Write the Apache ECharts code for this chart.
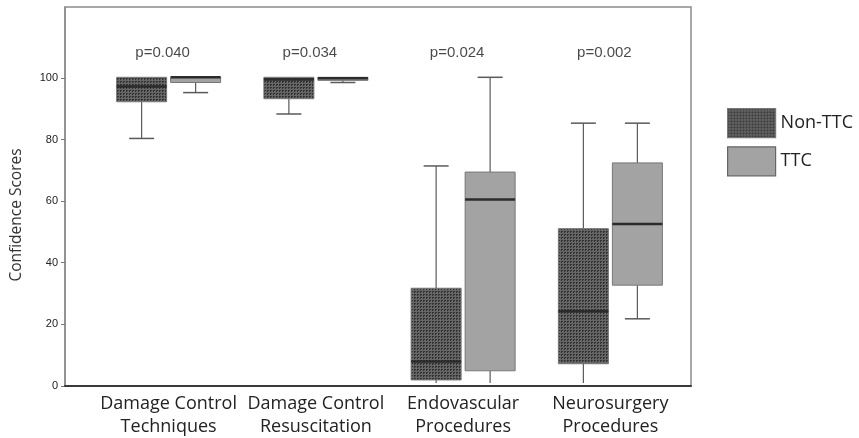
<!DOCTYPE html>
<html>
<head>
<meta charset="utf-8">
<script src="https://cdn.jsdelivr.net/npm/echarts@6/dist/echarts.min.js"></script>
<style>html,body{margin:0;padding:0;background:#fff;}#c{width:859px;height:438px;}</style>
</head>
<body>
<div id="c"></div>
<script>
// ---- data ----
const categories = ['Damage Control\nTechniques', 'Damage Control\nResuscitation', 'Endovascular\nProcedures', 'Neurosurgery\nProcedures'];
// [min, Q1, median, Q3, max]
const nonTTC = [[80, 92, 97, 100, 100], [88, 93, 99.3, 100, 100], [0, 1, 7, 31, 71], [0, 6.3, 23.5, 50.5, 85]];
const ttc = [[95, 98.3, 100, 100, 100], [98.3, 99, 99.7, 100, 100], [0, 4, 60, 69, 100], [21, 32, 52, 72, 85]];
const pValues = ['p=0.040', 'p=0.034', 'p=0.024', 'p=0.002'];
const yTicks = [0, 20, 40, 60, 80, 100];
const seriesNames = ['Non-TTC', 'TTC'];

// ---- styles ----
const Y_MAX = 123;
const P_LABEL_LEVEL = 108;
function makePattern() {
  const cv = document.createElement('canvas');
  cv.width = 3; cv.height = 3;
  const ctx = cv.getContext('2d');
  ctx.fillStyle = '#666666'; ctx.fillRect(0, 0, 3, 3);
  ctx.fillStyle = '#323232';
  ctx.fillRect(0, 0, 2, 1); ctx.fillRect(0, 1, 1, 1);
  return { image: cv, repeat: 'repeat' };
}
const darkPattern = makePattern();
const ttcFill = '#a3a3a3';

function boxRenderer(offset, fill) {
  return function (params, api) {
    const cat = api.value(0);
    const vMin = api.value(1);
    const pMin = api.coord([cat, vMin]);
    const pQ1 = api.coord([cat, api.value(2)]);
    const pMed = api.coord([cat, api.value(3)]);
    const pQ3 = api.coord([cat, api.value(4)]);
    const pMax = api.coord([cat, api.value(5)]);
    const cx = pMin[0] + offset;
    const hw = 25, cw = 12.5;
    const wStyle = { stroke: '#5a5a5a', lineWidth: 1.2 };
    const cStyle = { stroke: '#5a5a5a', lineWidth: 1.5 };
    const children = [];
    if (pMax[1] < pQ3[1] - 0.5) {
      children.push({ type: 'line', shape: { x1: cx, y1: pMax[1], x2: cx, y2: pQ3[1] }, style: wStyle });
      children.push({ type: 'line', shape: { x1: cx - cw, y1: pMax[1], x2: cx + cw, y2: pMax[1] }, style: cStyle });
    }
    if (pMin[1] > pQ1[1] + 0.5) {
      children.push({ type: 'line', shape: { x1: cx, y1: pQ1[1], x2: cx, y2: pMin[1] }, style: wStyle });
      if (vMin > 0) {
        children.push({ type: 'line', shape: { x1: cx - cw, y1: pMin[1], x2: cx + cw, y2: pMin[1] }, style: cStyle });
      }
    }
    children.push({ type: 'rect', shape: { x: cx - hw, y: pQ3[1], width: hw * 2, height: pQ1[1] - pQ3[1] }, style: { fill: fill, stroke: '#777', lineWidth: 1 } });
    children.push({ type: 'line', shape: { x1: cx - hw, y1: pMed[1], x2: cx + hw, y2: pMed[1] }, style: { stroke: '#2b2b2b', lineWidth: 2.5 } });
    return { type: 'group', children: children };
  };
}

const chart = echarts.init(document.getElementById('c'), null, { renderer: 'canvas' });
chart.setOption({
  animation: false,
  backgroundColor: '#fff',
  grid: [
    { left: 65, right: 168, top: 7, bottom: 52, show: true, borderColor: '#8c8c8c', borderWidth: 1.5, backgroundColor: 'transparent' },
    { left: 95, right: 175, top: 7, bottom: 52 }
  ],
  xAxis: [
    { type: 'value', gridIndex: 0, min: 0, max: 1, z: 5, axisLine: { show: true, lineStyle: { color: '#3a3a3a', width: 2 } }, axisTick: { show: false }, axisLabel: { show: false }, splitLine: { show: false } },
    { type: 'category', gridIndex: 1, data: categories, axisLine: { show: false }, axisTick: { show: false }, splitLine: { show: false },
      axisLabel: { interval: 0, margin: 9, fontFamily: 'Open Sans', fontSize: 18, lineHeight: 23, color: '#222' } }
  ],
  yAxis: [
    { type: 'value', gridIndex: 0, min: 0, max: Y_MAX, splitLine: { show: false },
      axisLine: { show: true, lineStyle: { color: '#8c8c8c', width: 1.5 } },
      axisTick: { show: true, length: 4, lineStyle: { color: '#777' }, customValues: yTicks },
      axisLabel: { margin: 7, fontFamily: 'Liberation Sans', fontSize: 11, color: '#222', customValues: yTicks } },
    { type: 'value', gridIndex: 1, min: 0, max: Y_MAX, show: false }
  ],
  legend: {
    orient: 'vertical', left: 722, top: 103, itemWidth: 48, itemHeight: 29, itemGap: 8, icon: 'rect',
    textStyle: { fontFamily: 'Open Sans', fontSize: 18, color: '#222' },
    data: [
      { name: seriesNames[0], itemStyle: { color: darkPattern, borderColor: '#777', borderWidth: 1.2 } },
      { name: seriesNames[1], itemStyle: { color: ttcFill, borderColor: '#666', borderWidth: 1.2 } }
    ]
  },
  graphic: [
    { type: 'text', x: 17, y: 215, rotation: Math.PI / 2, style: { text: 'Confidence Scores', fontFamily: 'Open Sans', fontSize: 15.5, fill: '#333', align: 'center', verticalAlign: 'middle' } }
  ],
  series: [
    { name: seriesNames[0], type: 'custom', xAxisIndex: 1, yAxisIndex: 1, itemStyle: { color: darkPattern },
      renderItem: boxRenderer(-27, darkPattern), encode: { x: 0, y: [1, 2, 3, 4, 5] },
      data: nonTTC.map((d, i) => [i].concat(d)) },
    { name: seriesNames[1], type: 'custom', xAxisIndex: 1, yAxisIndex: 1, itemStyle: { color: ttcFill },
      renderItem: boxRenderer(27, ttcFill), encode: { x: 0, y: [1, 2, 3, 4, 5] },
      data: ttc.map((d, i) => [i].concat(d)) },
    { type: 'scatter', xAxisIndex: 1, yAxisIndex: 1, symbolSize: 0, silent: true,
      data: pValues.map((p, i) => [i, P_LABEL_LEVEL]),
      label: { show: true, position: 'inside', offset: [-6, 0], formatter: (prm) => pValues[prm.dataIndex], fontFamily: 'Liberation Sans', fontSize: 15, color: '#1a1a1a' } }
  ]
});
</script>
</body>
</html>
